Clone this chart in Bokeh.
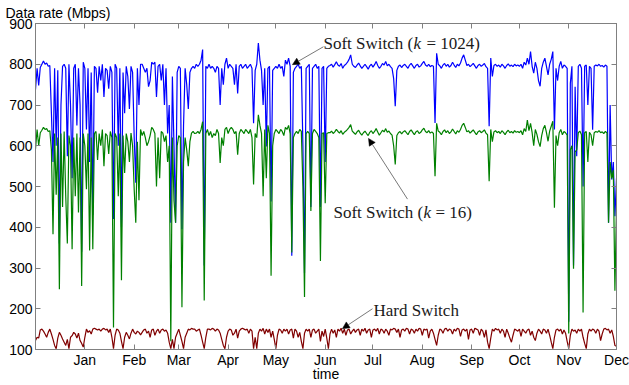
from bokeh.plotting import figure
from bokeh.models import (Range1d, FixedTicker, LinearAxis, Label, Arrow,
                          NormalHead, ColumnDataSource)
from bokeh.embed import file_html
from bokeh.resources import INLINE

# ---------------- data (day index counted from 1 December) ----------------
days = list(range(366))
month_ticks = [31, 62, 90, 121, 151, 182, 212, 243, 274, 304, 335, 365]
month_labels = ["Jan", "Feb", "Mar", "Apr", "May", "Jun",
                "Jul", "Aug", "Sep", "Oct", "Nov", "Dec"]
rate_ticks = [100, 200, 300, 400, 500, 600, 700, 800, 900]

soft_1024 = [
    738, 790, 748, 792, 800, 808, 800, 803, 795, 797,
    680, 560, 790, 600, 785, 360, 700, 795, 800, 790,
    574, 800, 700, 520, 790, 800, 650, 790, 700, 340,
    805, 790, 640, 790, 560, 780, 430, 795, 790, 730,
    795, 760, 800, 720, 790, 785, 740, 795, 780, 420,
    800, 790, 600, 790, 400, 780, 680, 795, 770, 690,
    795, 780, 620, 509, 790, 700, 800, 800, 790, 780,
    790, 745, 760, 805, 800, 805, 720, 795, 800, 760,
    800, 700, 790, 630, 700, 411, 770, 600, 411, 780,
    795, 790, 395, 650, 790, 750, 690, 780, 790, 795,
    790, 800, 795, 800, 810, 836, 306, 795, 790, 800,
    790, 795, 790, 780, 795, 790, 700, 790, 750, 800,
    815, 790, 800, 795, 790, 750, 800, 728, 795, 800,
    790, 795, 800, 790, 795, 800, 790, 655, 785, 800,
    852, 810, 785, 700, 790, 598, 790, 795, 463, 785,
    790, 795, 790, 800, 790, 795, 770, 810, 800, 815,
    795, 330, 780, 790, 795, 800, 790, 795, 600, 287,
    790, 795, 800, 450, 790, 795, 800, 790, 795, 450,
    790, 795, 560, 790, 795, 797, 800, 793, 799, 806,
    798, 795, 802, 790, 797, 800, 805, 812, 823, 800,
    795, 792, 798, 803, 796, 790, 795, 800, 794, 788,
    796, 800, 793, 799, 807, 797, 790, 795, 802, 798,
    807, 796, 800, 794, 790, 765, 697, 785, 795, 798,
    792, 797, 800, 795, 790, 798, 802, 796, 790, 797,
    800, 793, 796, 802, 807, 798, 795, 800, 794, 797,
    795, 656, 827, 800, 796, 790, 798, 802, 795, 800,
    793, 797, 805, 798, 792, 800, 796, 803, 815, 823,
    810, 797, 800, 794, 798, 802, 796, 790, 797, 800,
    795, 798, 802, 794, 790, 648, 815, 770, 797, 800,
    795, 798, 793, 800, 796, 790, 797, 801, 795, 798,
    794, 800, 796, 798, 795, 800, 790, 805, 798, 815,
    800, 831, 795, 778, 805, 790, 760, 746, 790, 805,
    815, 795, 774, 800, 812, 831, 640, 790, 760, 795,
    807, 790, 798, 795, 790, 168, 753, 795, 306, 745,
    574, 795, 800, 790, 500, 795, 798, 700, 795, 790,
    639, 795, 798, 796, 800, 795, 797, 793, 798, 795,
    411, 700, 517, 560, 427, 520,
]

soft_16 = [
    592, 640, 600, 632, 638, 645, 640, 642, 635, 637,
    590, 383, 630, 480, 620, 248, 630, 450, 635, 476,
    360, 625, 600, 346, 620, 476, 630, 436, 620, 256,
    630, 600, 493, 630, 343, 620, 346, 630, 635, 565,
    630, 600, 640, 550, 630, 625, 580, 635, 620, 154,
    630, 620, 476, 630, 270, 625, 533, 630, 610, 560,
    631, 600, 493, 411, 610, 466, 640, 625, 635, 620,
    600, 610, 625, 645, 640, 630, 500, 620, 520, 635,
    631, 610, 625, 560, 600, 120, 620, 466, 411, 600,
    625, 620, 204, 560, 620, 590, 550, 610, 631, 635,
    630, 631, 635, 630, 640, 659, 220, 630, 640, 625,
    635, 620, 630, 625, 640, 630, 558, 620, 600, 640,
    645, 630, 640, 645, 640, 630, 635, 578, 630, 640,
    635, 630, 640, 635, 630, 640, 620, 505, 630, 620,
    676, 650, 630, 476, 640, 520, 650, 630, 281, 600,
    630, 640, 635, 630, 640, 635, 625, 645, 640, 650,
    630, 338, 620, 630, 635, 630, 640, 635, 500, 229,
    630, 635, 630, 440, 630, 640, 635, 630, 620, 317,
    630, 632, 459, 630, 632, 632, 636, 630, 634, 640,
    635, 631, 637, 628, 633, 636, 640, 645, 652, 636,
    632, 628, 634, 638, 631, 626, 632, 636, 630, 625,
    633, 637, 630, 635, 642, 634, 626, 632, 638, 634,
    642, 633, 636, 630, 626, 600, 554, 625, 632, 635,
    629, 634, 637, 632, 627, 635, 639, 633, 627, 634,
    637, 630, 633, 639, 643, 635, 632, 637, 631, 634,
    630, 525, 655, 636, 633, 627, 635, 639, 632, 637,
    630, 634, 641, 635, 629, 637, 633, 640, 650, 655,
    645, 634, 637, 631, 635, 639, 633, 627, 634, 637,
    632, 635, 639, 631, 627, 513, 640, 610, 634, 637,
    632, 635, 630, 637, 633, 627, 634, 638, 632, 635,
    631, 637, 633, 635, 632, 637, 627, 642, 635, 663,
    637, 655, 632, 600, 640, 628, 610, 598, 625, 642,
    650, 632, 611, 636, 648, 660, 448, 625, 600, 632,
    640, 627, 635, 632, 626, 139, 590, 600, 298, 585,
    590, 632, 636, 627, 191, 632, 635, 560, 633, 627,
    600, 632, 635, 633, 637, 632, 634, 630, 635, 632,
    411, 560, 520, 540, 244, 450,
]

hard = [
    122, 130, 128, 148, 150, 145, 138, 130, 142, 150,
    138, 125, 110, 102, 128, 142, 135, 126, 118, 110,
    125, 102, 130, 134, 142, 138, 128, 140, 122, 115,
    106, 130, 150, 142, 146, 138, 150, 152, 150, 148,
    150, 145, 150, 152, 148, 150, 142, 150, 130, 102,
    135, 150, 148, 140, 120, 102, 130, 142, 135, 126,
    140, 150, 142, 138, 145, 142, 136, 142, 148, 150,
    140, 145, 130, 148, 150, 135, 145, 150, 140, 148,
    150, 145, 148, 140, 118, 102, 125, 102, 130, 140,
    150, 135, 120, 102, 130, 140, 150, 148, 152, 150,
    150, 145, 148, 150, 135, 118, 102, 130, 150, 150,
    148, 152, 150, 145, 150, 148, 140, 125, 110, 102,
    130, 145, 150, 148, 135, 140, 150, 128, 145, 150,
    152, 150, 148, 150, 140, 150, 145, 102, 130, 102,
    140, 150, 145, 152, 138, 150, 142, 150, 130, 145,
    125, 102, 135, 150, 148, 140, 150, 145, 150, 138,
    148, 150, 128, 150, 145, 130, 142, 120, 102, 140,
    150, 145, 150, 130, 148, 150, 140, 145, 150, 120,
    145, 132, 150, 128, 102, 138, 150, 140, 148, 130,
    150, 145, 152, 140, 150, 135, 148, 150, 138, 145,
    150, 142, 148, 150, 135, 150, 145, 152, 140, 148,
    150, 130, 148, 150, 145, 152, 138, 150, 148, 140,
    150, 145, 135, 150, 148, 152, 150, 142, 150, 130,
    148, 150, 145, 152, 150, 138, 150, 148, 140, 150,
    145, 152, 150, 135, 150, 148, 150, 128, 145, 150,
    140, 125, 110, 135, 150, 148, 140, 150, 152, 145,
    150, 148, 138, 150, 145, 152, 150, 132, 148, 150,
    145, 150, 125, 148, 150, 140, 152, 150, 148, 135,
    150, 145, 130, 148, 118, 102, 128, 150, 145, 152,
    148, 150, 140, 150, 145, 130, 150, 140, 128, 118,
    135, 150, 148, 145, 150, 132, 150, 145, 140, 148,
    150, 135, 145, 130, 122, 140, 150, 145, 138, 150,
    148, 140, 150, 135, 118, 102, 130, 148, 150, 145,
    150, 138, 148, 140, 120, 102, 135, 150, 145, 148,
    140, 150, 145, 150, 130, 115, 102, 138, 150, 145,
    150, 148, 140, 150, 145, 122, 138, 150, 152, 148,
    150, 140, 148, 132, 110, 108,
]

# ---------------- figure ----------------
GREY = "#808080"
SANS = "Liberation Sans"
p = figure(width=629, height=385, output_backend="svg", toolbar_location=None,
           x_range=Range1d(0, 365), y_range=Range1d(100, 900),
           x_axis_type=None, y_axis_type=None,
           min_border_left=35, min_border_right=13,
           min_border_top=22, min_border_bottom=36)
p.outline_line_color = GREY
p.background_fill_color = "white"
p.border_fill_color = "white"

# y-axis caption placed as a left-aligned title above the frame
p.title.text = "Data rate (Mbps)"
p.title.align = "left"
p.title.offset = -30
p.title.standoff = 5
p.title.text_font = SANS
p.title.text_font_size = "14px"
p.title.text_font_style = "normal"
p.title.text_color = "black"


def style_axis(ax, show_labels):
    ax.axis_line_color = GREY
    ax.major_tick_line_color = GREY
    ax.major_tick_in = 5
    ax.major_tick_out = 0
    ax.minor_tick_line_color = None
    ax.major_label_text_font = SANS
    if show_labels:
        ax.major_label_text_color = "black"
        ax.major_label_text_font_size = "14px"
        ax.major_label_standoff = 3
    else:
        ax.major_label_text_color = None
        ax.major_label_text_font_size = "0px"
        ax.major_label_standoff = 0
    return ax


xb = LinearAxis(ticker=FixedTicker(ticks=month_ticks),
                major_label_overrides={t: m for t, m in zip(month_ticks, month_labels)})
style_axis(xb, True)
xb.major_label_standoff = 2
xb.axis_label = "time"
xb.axis_label_text_font = SANS
xb.axis_label_text_font_size = "14px"
xb.axis_label_text_font_style = "normal"
xb.axis_label_text_color = "black"
xb.axis_label_standoff = -5
p.add_layout(xb, "below")
p.add_layout(style_axis(LinearAxis(ticker=FixedTicker(ticks=month_ticks)), False), "above")
p.add_layout(style_axis(LinearAxis(ticker=FixedTicker(ticks=rate_ticks)), True), "left")
p.add_layout(style_axis(LinearAxis(ticker=FixedTicker(ticks=rate_ticks)), False), "right")

src = ColumnDataSource(dict(day=days, soft_1024=soft_1024, soft_16=soft_16, hard=hard))
p.line("day", "hard", source=src, line_color="#800000", line_width=1.2)
p.line("day", "soft_1024", source=src, line_color="#0000ff", line_width=1.2)
p.line("day", "soft_16", source=src, line_color="#008000", line_width=1.2)

# ---------------- annotations ----------------
SERIF = "Liberation Serif"
TXT = "#1a1a1a"


def lab(x, y, text, dx=0, style="normal"):
    p.add_layout(Label(x=x, y=y, x_offset=dx, text=text, text_font=SERIF,
                       text_font_size="17px", text_font_style=style,
                       text_baseline="alphabetic", text_color=TXT))


lab(180.9, 850, "Soft Switch (")
lab(180.9, 850, "k", 90, "italic")
lab(180.9, 850, "= 1024)", 103)

lab(187.2, 436, "Soft Switch (")
lab(187.2, 436, "k", 90, "italic")
lab(187.2, 436, "= 16)", 102)

lab(212.3, 195, "Hard Switch")


def arrow(x0, y0, x1, y1):
    p.add_layout(Arrow(end=NormalHead(size=7, fill_color="black", line_color="black",
                                      line_width=0.5),
                       x_start=x0, y_start=y0, x_end=x1, y_end=y1,
                       line_color="#555555", line_width=0.8))


arrow(180.9, 843, 161.4, 799)
arrow(233.7, 469, 209.2, 618)
arrow(211.7, 200, 192.8, 151)

open("out.html", "w").write(file_html(p, INLINE))
